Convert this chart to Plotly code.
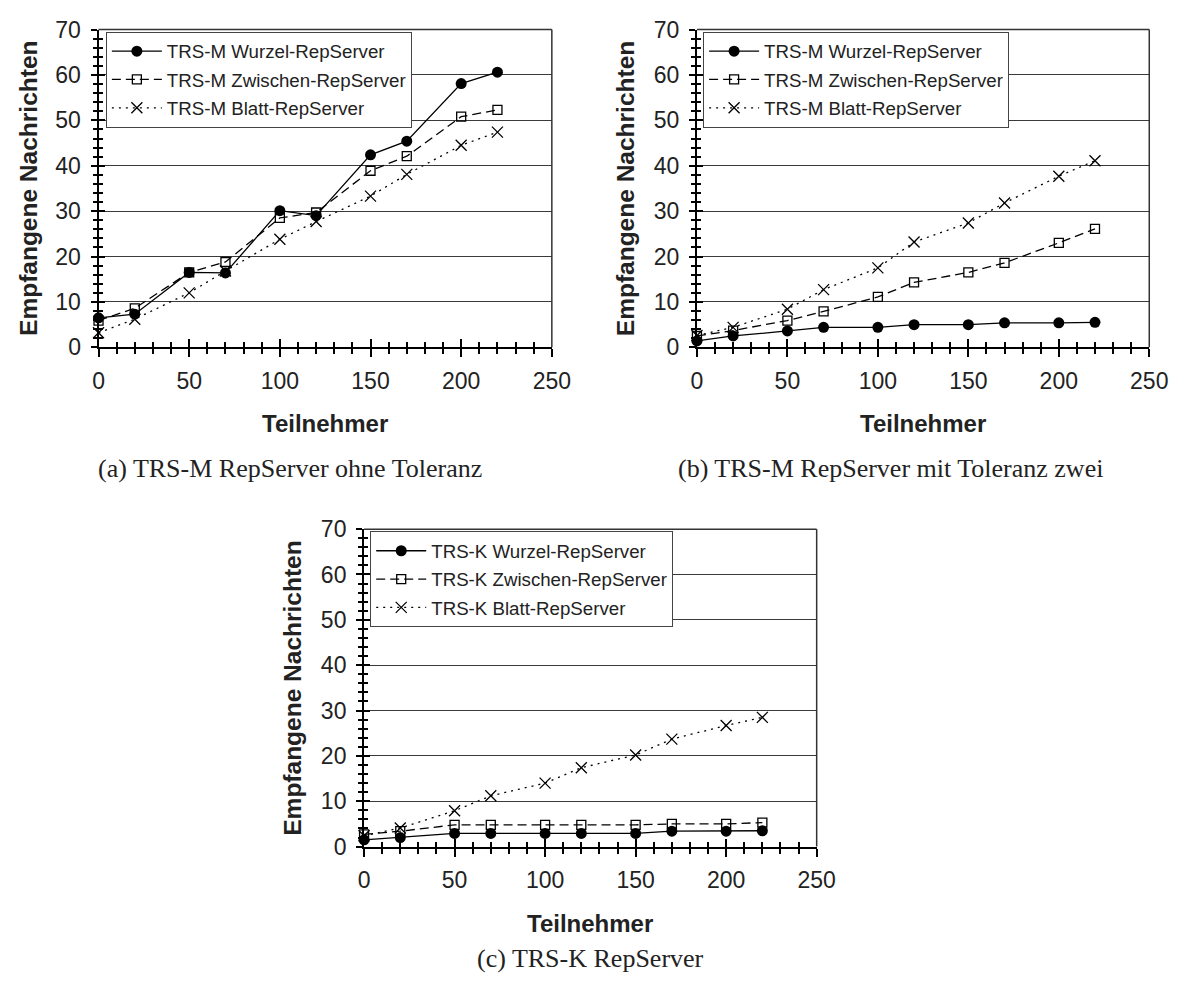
import plotly.graph_objects as go

W, H = 1195, 994

teilnehmer = [0, 20, 50, 70, 100, 120, 150, 170, 200, 220]

a_wurzel = [6.5, 7.3, 16.5, 16.4, 30.1, 29.0, 42.4, 45.4, 58.1, 60.6]
a_zwischen = [5.9, 8.6, 16.5, 18.8, 28.5, 29.7, 38.9, 42.1, 50.8, 52.3]
a_blatt = [3.2, 6.2, 12.0, 16.8, 23.8, 27.7, 33.3, 38.1, 44.5, 47.4]

b_wurzel = [1.4, 2.5, 3.6, 4.4, 4.4, 5.0, 5.0, 5.4, 5.4, 5.5]
b_zwischen = [2.5, 3.7, 5.9, 7.9, 11.1, 14.3, 16.5, 18.6, 23.0, 26.1]
b_blatt = [2.6, 4.4, 8.4, 12.7, 17.5, 23.2, 27.4, 31.8, 37.7, 41.1]

c_wurzel = [1.5, 2.0, 2.9, 2.9, 2.9, 2.9, 2.9, 3.4, 3.4, 3.5]
c_zwischen = [2.7, 3.4, 4.8, 4.8, 4.8, 4.8, 4.8, 5.0, 5.0, 5.3]
c_blatt = [2.4, 4.1, 7.9, 11.2, 14.0, 17.4, 20.2, 23.7, 26.7, 28.5]

names_m = ["TRS-M Wurzel-RepServer", "TRS-M Zwischen-RepServer", "TRS-M Blatt-RepServer"]
names_k = ["TRS-K Wurzel-RepServer", "TRS-K Zwischen-RepServer", "TRS-K Blatt-RepServer"]

captions = ["(a) TRS-M RepServer ohne Toleranz",
            "(b) TRS-M RepServer mit Toleranz zwei",
            "(c) TRS-K RepServer"]
x_title = "Teilnehmer"
y_title = "Empfangene Nachrichten"

SANS = "Liberation Sans, Arial, sans-serif"
SERIF = "Liberation Serif, Times New Roman, serif"

boxes = [(94.5, 557.5, 17, 343.3), (705.7, 1167.7, 17, 343.3), (365.7, 828, 530, 856)]
legend_pos = [(102, 19), (712, 19), (372, 532)]
ytitle_x = [23, 633, 293]
caption_pos = [(290, 468), (903, 468), (597, 971)]

panels = [
    (names_m, [a_wurzel, a_zwischen, a_blatt]),
    (names_m, [b_wurzel, b_zwischen, b_blatt]),
    (names_k, [c_wurzel, c_zwischen, c_blatt]),
]

styles = [
    dict(line=dict(color="black", width=1.3, dash="solid"),
         marker=dict(symbol="circle", size=11, color="black")),
    dict(line=dict(color="black", width=1.3, dash="9px,5px"),
         marker=dict(symbol="square-open", size=9, color="black", line=dict(width=1.3, color="black"))),
    dict(line=dict(color="black", width=1.3, dash="2px,5px"),
         marker=dict(symbol="x-thin-open", size=11, color="black", line=dict(width=1.3, color="black"))),
]

fig = go.Figure()
layout = dict(width=W, height=H, margin=dict(l=0, r=0, t=0, b=0),
              paper_bgcolor="white", plot_bgcolor="white", showlegend=True,
              annotations=[], shapes=[])

for i, (names, series) in enumerate(panels):
    k = i + 1
    xa = "x" if k == 1 else f"x{k}"
    ya = "y" if k == 1 else f"y{k}"
    lg = "legend" if k == 1 else f"legend{k}"
    L, R, T, B = boxes[i]
    xdom = [L / W, R / W]
    ydom = [1 - B / H, 1 - T / H]
    for j, (nm, vals) in enumerate(zip(names, series)):
        fig.add_trace(go.Scatter(x=teilnehmer, y=vals, name=nm, mode="lines+markers",
                                 xaxis=xa, yaxis=ya, legend=lg, legendgroup=f"g{k}{j}",
                                 cliponaxis=False, **styles[j]))
    ko = k + 3
    # empty helper traces so the overlay axes (inner halves of the crossing ticks) get drawn
    fig.add_trace(go.Scatter(x=[None], y=[None], xaxis=f"x{ko}", yaxis=ya, showlegend=False,
                             mode="markers", hoverinfo="skip"))
    fig.add_trace(go.Scatter(x=[None], y=[None], xaxis=xa, yaxis=f"y{ko}", showlegend=False,
                             mode="markers", hoverinfo="skip"))

    common_x = dict(domain=xdom, range=[0, 250], tickmode="linear", tick0=0, dtick=50,
                    showgrid=False, zeroline=False)
    common_y = dict(domain=ydom, range=[0, 70], tickmode="linear", tick0=0, dtick=10,
                    zeroline=False)
    layout["xaxis" if k == 1 else f"xaxis{k}"] = dict(
        **common_x, anchor=ya, ticks="outside", ticklen=8, tickwidth=2, tickcolor="black",
        showline=True, linewidth=2, linecolor="black",
        minor=dict(dtick=10, tick0=0, ticks="outside", ticklen=5, tickwidth=1.7, tickcolor="black", showgrid=False),
        tickfont=dict(family=SANS, size=23, color="#222"), ticklabelstandoff=4)
    layout["yaxis" if k == 1 else f"yaxis{k}"] = dict(
        **common_y, anchor=xa, ticks="outside", ticklen=6, tickwidth=2, tickcolor="black",
        showline=True, linewidth=2, linecolor="black",
        showgrid=True, gridcolor="#3a3a3a", gridwidth=1,
        minor=dict(dtick=2, tick0=0, ticks="outside", ticklen=4, tickwidth=1.7, tickcolor="black", showgrid=False),
        tickfont=dict(family=SANS, size=23, color="#222"), ticklabelstandoff=5)
    layout[f"xaxis{ko}"] = dict(
        **common_x, overlaying=xa, anchor=ya, side="bottom", ticks="inside",
        ticklen=8, tickwidth=2, tickcolor="black", showticklabels=False, showline=False,
        minor=dict(dtick=10, tick0=0, ticks="inside", ticklen=5, tickwidth=1.7, tickcolor="black", showgrid=False))
    layout[f"yaxis{ko}"] = dict(
        **common_y, overlaying=ya, anchor=xa, side="left", ticks="inside",
        ticklen=6, tickwidth=2, tickcolor="black", showticklabels=False, showline=False, showgrid=False,
        minor=dict(dtick=2, tick0=0, ticks="inside", ticklen=4, tickwidth=1.7, tickcolor="black", showgrid=False))

    layout["shapes"].append(dict(type="line", xref=f"{xa} domain", yref=f"{ya} domain",
                                 x0=0, x1=1, y0=1, y1=1, line=dict(color="#333", width=1.5)))
    layout["shapes"].append(dict(type="line", xref=f"{xa} domain", yref=f"{ya} domain",
                                 x0=1, x1=1, y0=0, y1=1, line=dict(color="#333", width=1.5)))

    lx, ly = legend_pos[i]
    layout[lg] = dict(x=lx / W, y=1 - ly / H, xanchor="left", yanchor="top",
                      xref="paper", yref="paper",
                      bgcolor="white", bordercolor="#444", borderwidth=1,
                      font=dict(family=SANS, size=18.7, color="#222"),
                      itemwidth=50, traceorder="grouped", tracegroupgap=1)

    layout["annotations"].append(dict(
        text=f"<b>{y_title}</b>", x=ytitle_x[i] / W, y=1 - ((T + B) / 2) / H,
        xref="paper", yref="paper", showarrow=False, textangle=-90,
        xanchor="center", yanchor="middle",
        font=dict(family=SANS, size=24.5, color="#222")))
    layout["annotations"].append(dict(
        text=f"<b>{x_title}</b>", x=((L + R) / 2) / W, y=1 - (B + 78.5) / H,
        xref="paper", yref="paper", showarrow=False,
        xanchor="center", yanchor="middle",
        font=dict(family=SANS, size=24, color="#222")))
    cx, cy = caption_pos[i]
    layout["annotations"].append(dict(
        text=captions[i], x=cx / W, y=1 - cy / H,
        xref="paper", yref="paper", showarrow=False,
        xanchor="center", yanchor="middle",
        font=dict(family=SERIF, size=26, color="#222")))

fig.update_layout(**layout)
fig.write_html("out.html")
